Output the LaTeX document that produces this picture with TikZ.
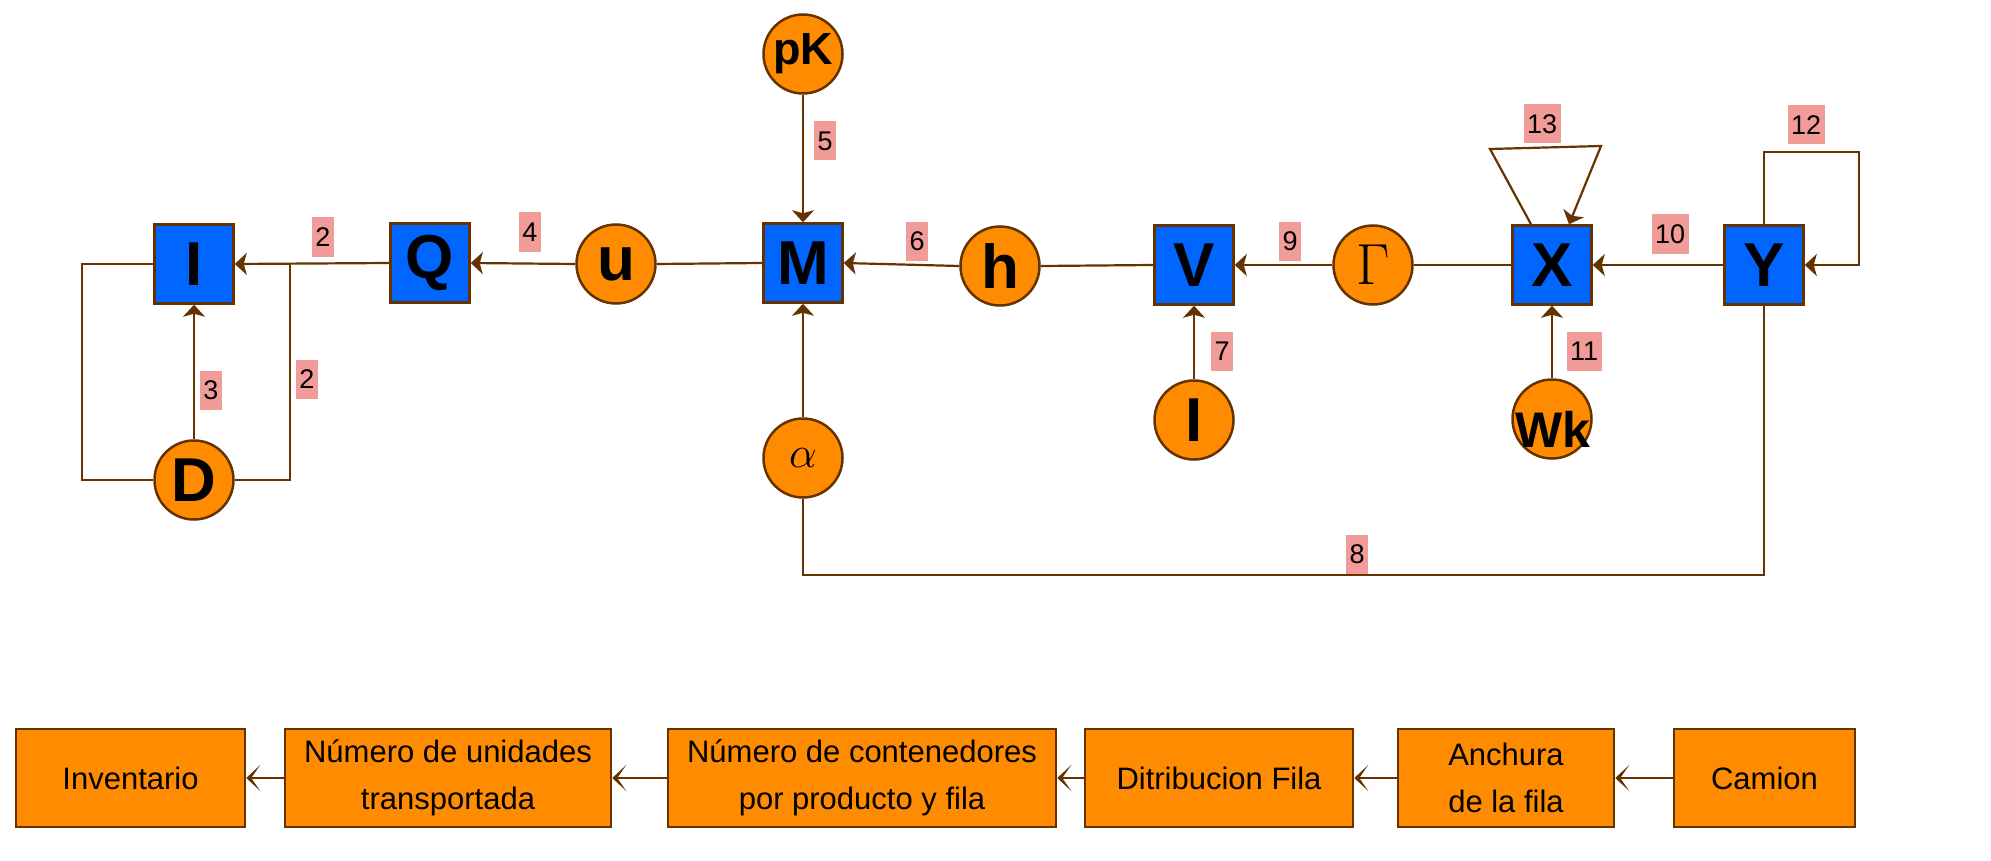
\documentclass[tikz,border=0pt]{standalone}
\usepackage{fix-cm}
\usepackage{fontspec}
\setmainfont{Liberation Sans}
\usetikzlibrary{arrows.meta}
\definecolor{org}{HTML}{FF8C00}
\definecolor{blu}{HTML}{0066FF}
\definecolor{brn}{HTML}{663300}
\definecolor{pnk}{HTML}{F19C99}
\newcommand\bigfnt{\fontsize{62}{62}\selectfont\bfseries}
\newcommand\lblfnt{\fontsize{27}{30}\selectfont}
\newcommand\medfnt{\fontsize{31}{47}\selectfont}
\tikzset{
  sqbox/.style={draw=brn, fill=blu, line width=2.5pt, minimum size=79pt, inner sep=0pt, font=\bigfnt},
  circ/.style={circle, draw=brn, fill=org, line width=2.5pt, minimum size=79pt, inner sep=0pt, font=\bigfnt},
  lbl/.style={fill=pnk, font=\lblfnt, inner xsep=3.5pt, inner ysep=0pt, minimum height=39pt},
  conn/.style={draw=brn, line width=2.2pt},
  arr/.style={conn, -{Stealth[length=12pt,width=22pt,inset=3pt]}},
  barr/.style={draw=brn, line width=2.8pt, -{Stealth[length=14pt,width=26pt,inset=9pt]}},
  obox/.style={draw=brn, fill=org, line width=2.5pt, minimum height=98pt, inner sep=0pt, align=center, font=\medfnt}
}
\begin{document}
\begin{tikzpicture}[x=1pt,y=-1pt]
\useasboundingbox (0,0) rectangle (1991,861);
% top row
\node[sqbox] (I) at (194,264) {I};
\node[sqbox] (Q) at (430,263) {Q};
\node[circ] (u) at (616,264) {u};
\node[sqbox] (M) at (803,263) {M};
\node[circ] (pK) at (803,54) {\fontsize{45}{45}\selectfont\bfseries pK};
\node[circ] (h) at (1000,266) {h};
\node[sqbox] (V) at (1194,265) {V};
\node[circ, font=\fontsize{58}{58}\selectfont] (G) at (1373,265) {$\Gamma$};
\node[sqbox] (X) at (1552,265) {X};
\node[sqbox] (Y) at (1764,265) {Y};
\node[circ] (l) at (1194,420) {I};
\node[circ] (Wk) at (1552,419) {};
\node[font=\fontsize{50}{50}\selectfont\bfseries, inner sep=0pt] (Wkt) at (1553,429) {Wk};
\node[circ, font=\fontsize{44}{44}\selectfont] (al) at (803,458) {$\alpha$};
\node[circ] (D) at (194,480) {D};
% junction coordinates
\coordinate (j1) at (290,264);
\coordinate (l1) at (82,264);
\coordinate (yl) at (1859,152);
\coordinate (c8) at (1764,575);
\coordinate (xa) at (1490,149);
\coordinate (xb) at (1601,146);
% connectors
\draw[arr] (Q.west) -- (I.east);
\draw[conn] (D.east) -| (j1);
\draw[conn] (I.west) -- (l1) |- (D.west);
\draw[arr] (D.north) -- (I.south);
\draw[arr] (u.west) -- (Q.east);
\draw[conn] (M.west) -- (u.east);
\draw[arr] (h.west) -- (M.east);
\draw[conn] (V.west) -- (h.east);
\draw[arr] (G.west) -- (V.east);
\draw[conn] (X.west) -- (G.east);
\draw[arr] (Y.west) -- (X.east);
\draw[arr] (pK.south) -- (M.north);
\draw[arr] (al.north) -- (M.south);
\draw[arr] (l.north) -- (V.south);
\draw[arr] (Wk.north) -- (X.south);
\draw[arr] (Y.north) |- (yl) |- (Y.east);
\draw[arr] ([xshift=-21pt]X.north) -- (xa) -- (xb) -- ([xshift=17pt]X.north);
\draw[conn] (Y.south) -- (c8) -| (al.south);
% labels
\node[lbl] (t2a) at (323,237) {2};
\node[lbl] (t2b) at (307,379) {2};
\node[lbl] (t3) at (211,390) {3};
\node[lbl] (t4) at (530,232) {4};
\node[lbl] (t5) at (825,141) {5};
\node[lbl] (t6) at (917,241) {6};
\node[lbl] (t7) at (1222,351) {7};
\node[lbl] (t8) at (1357,554) {8};
\node[lbl] (t9) at (1290,241) {9};
\node[lbl] (t10) at (1670,234) {10};
\node[lbl] (t11) at (1584,351) {11};
\node[lbl] (t12) at (1806,125) {12};
\node[lbl] (t13) at (1542,124) {13};
% bottom row
\node[obox, minimum width=229pt] (b1) at (130.5,778) {Inventario};
\node[obox, minimum width=326pt] (b2) at (448,778) {Número de unidades\\transportada};
\node[obox, minimum width=388pt] (b3) at (862,778) {Número de contenedores\\por producto y fila};
\node[obox, minimum width=268pt] (b4) at (1219,778) {Ditribucion Fila};
\node[obox, minimum width=216pt] (b5) at (1506,778) {Anchura\\de la fila};
\node[obox, minimum width=181pt] (b6) at (1764.5,778) {Camion};
\draw[barr] (b6.west) -- (b5.east);
\draw[barr] (b5.west) -- (b4.east);
\draw[barr] (b4.west) -- (b3.east);
\draw[barr] (b3.west) -- (b2.east);
\draw[barr] (b2.west) -- (b1.east);
\end{tikzpicture}
\end{document}
